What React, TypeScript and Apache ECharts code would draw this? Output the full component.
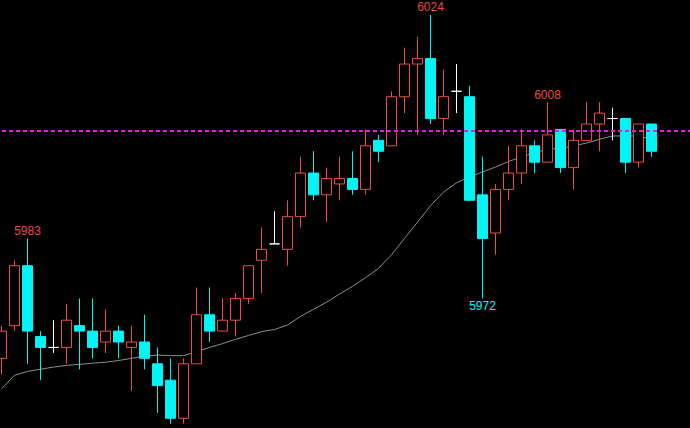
import React, { useEffect, useRef } from "react";
import * as echarts from "echarts";

const categories = Array.from({ length: 54 }, (_, i) => String(i + 1));

const opens = [5961, 5967, 5978, 5965, 5963, 5963, 5967, 5966, 5964, 5966, 5963, 5964, 5960, 5957, 5950, 5960, 5969, 5966, 5968, 5972, 5979, 5982, 5981, 5987, 5995, 5991, 5993, 5994, 5992, 6001, 6000, 6009, 6015, 6016, 6005, 6010, 6009, 5991, 5984, 5992, 5995, 6000, 5997, 6003, 5996, 6001, 6004, 6005, 6005, 5997, 6004];
const closes = [5966, 5978, 5966, 5963, 5963, 5968, 5966, 5963, 5966, 5964, 5964, 5961, 5956, 5950, 5960, 5969, 5966, 5968, 5972, 5978, 5981, 5982, 5987, 5995, 5991, 5994, 5994, 5992, 6000, 5999, 6009, 6015, 6016, 6005, 6009, 6010, 5990, 5983, 5992, 5995, 6000, 5997, 6002, 5996, 6001, 6004, 6006, 6005, 5997, 6004, 5999];
const lows = [5958, 5966, 5960, 5957, 5962, 5960, 5959, 5961, 5962, 5961, 5955, 5959, 5951, 5949, 5949, 5960, 5964, 5966, 5965, 5971, 5973, 5982, 5978, 5985, 5990, 5986, 5990, 5991, 5991, 5997, 6000, 6006, 6002, 6004, 6002, 6006, 5990, 5972, 5980, 5990, 5993, 5995, 5997, 5995, 5992, 6001, 5999, 6001, 5995, 5996, 5998];
const highs = [5967, 5979, 5983, 5966, 5968, 5971, 5972, 5972, 5970, 5967, 5967, 5969, 5963, 5961, 5961, 5974, 5974, 5972, 5973, 5978, 5985, 5988, 5990, 5998, 5999, 5996, 5998, 5999, 6003, 6002, 6010, 6018, 6020, 6024, 6014, 6015, 6011, 5998, 5993, 6000, 6003, 6001, 6008, 6003, 6003, 6008, 6008, 6007, 6005, 6004, 6004];
const movingAvg = [5955.4, 5957.9, 5958.6, 5959.0, 5959.4, 5959.7, 5959.9, 5960.1, 5960.3, 5960.6, 5961.0, 5961.4, 5961.6, 5961.5, 5961.5, 5962.2, 5963.0, 5963.7, 5964.5, 5965.2, 5965.9, 5966.3, 5967.1, 5968.7, 5970.0, 5971.3, 5972.8, 5974.2, 5975.8, 5977.5, 5980.0, 5983.0, 5986.0, 5989.0, 5991.5, 5993.2, 5994.3, 5995.2, 5996.1, 5997.1, 5998.0, 5998.7, 5999.4, 5999.5, 6000.0, 6000.5, 6001.2, 6001.8, 6001.8, 6001.8, 6001.2];
const refLevel = 6002.8;
const highMarks = [2, 33, 42];
const lowMarks = [37];

const RED = "#ee4b45";
const CYAN = "#00f6f6";
const WHITE = "#ffffff";

export default function App() {
  const ref = useRef<HTMLDivElement>(null);
  useEffect(() => {
    if (!ref.current) return;
    const chart = echarts.init(ref.current, undefined, { renderer: "svg" });
    const candleData = opens.map((o, i) => {
      const item: any = { value: [o, closes[i], lows[i], highs[i]] };
      if (o === closes[i]) {
        item.itemStyle = { color: WHITE, color0: WHITE, borderColor: WHITE, borderColor0: WHITE, borderColorDoji: WHITE };
      }
      return item;
    });
    const markData = [
      ...highMarks.map((i) => ({
        coord: [i, highs[i]],
        value: highs[i],
        label: { position: "top", color: RED },
      })),
      ...lowMarks.map((i) => ({
        coord: [i, lows[i]],
        value: lows[i],
        label: { position: "bottom", color: CYAN },
      })),
    ];
    chart.setOption({
      animation: false,
      backgroundColor: "#000000",
      grid: { left: -5, top: 0, width: 702, height: 428, outerBoundsMode: "none", containLabel: false },
      xAxis: {
        type: "category",
        data: categories,
        boundaryGap: true,
        show: false,
      },
      yAxis: {
        type: "value",
        min: 5948.22,
        max: 6026.75,
        show: false,
        splitLine: { show: false },
      },
      series: [
        {
          type: "line",
          data: movingAvg,
          symbol: "none",
          smooth: false,
          lineStyle: { color: "#8e8e8e", width: 1 },
          z: 1,
        },
        {
          type: "candlestick",
          data: candleData,
          barWidth: 10,
          clip: false,
          z: 2,
          itemStyle: {
            color: "#000000",
            color0: CYAN,
            borderColor: RED,
            borderColor0: CYAN,
            borderColorDoji: WHITE,
            borderWidth: 1,
          },
          markLine: {
            silent: true,
            symbol: ["none", "none"],
            label: { show: false },
            lineStyle: { color: "#e020e0", type: [4, 3], width: 2 },
            data: [{ yAxis: refLevel }],
          },
          markPoint: {
            symbol: "circle",
            symbolSize: 1,
            itemStyle: { color: "transparent" },
            label: {
              show: true,
              distance: 1,
              fontFamily: "Liberation Sans",
              fontSize: 12,
              formatter: (p: any) => String(p.value),
            },
            data: markData,
          },
        },
      ],
    });
    return () => chart.dispose();
  }, []);
  return (
    <div
      ref={ref}
      style={{ position: "absolute", left: 0, top: 0, width: 690, height: 428 }}
    />
  );
}
